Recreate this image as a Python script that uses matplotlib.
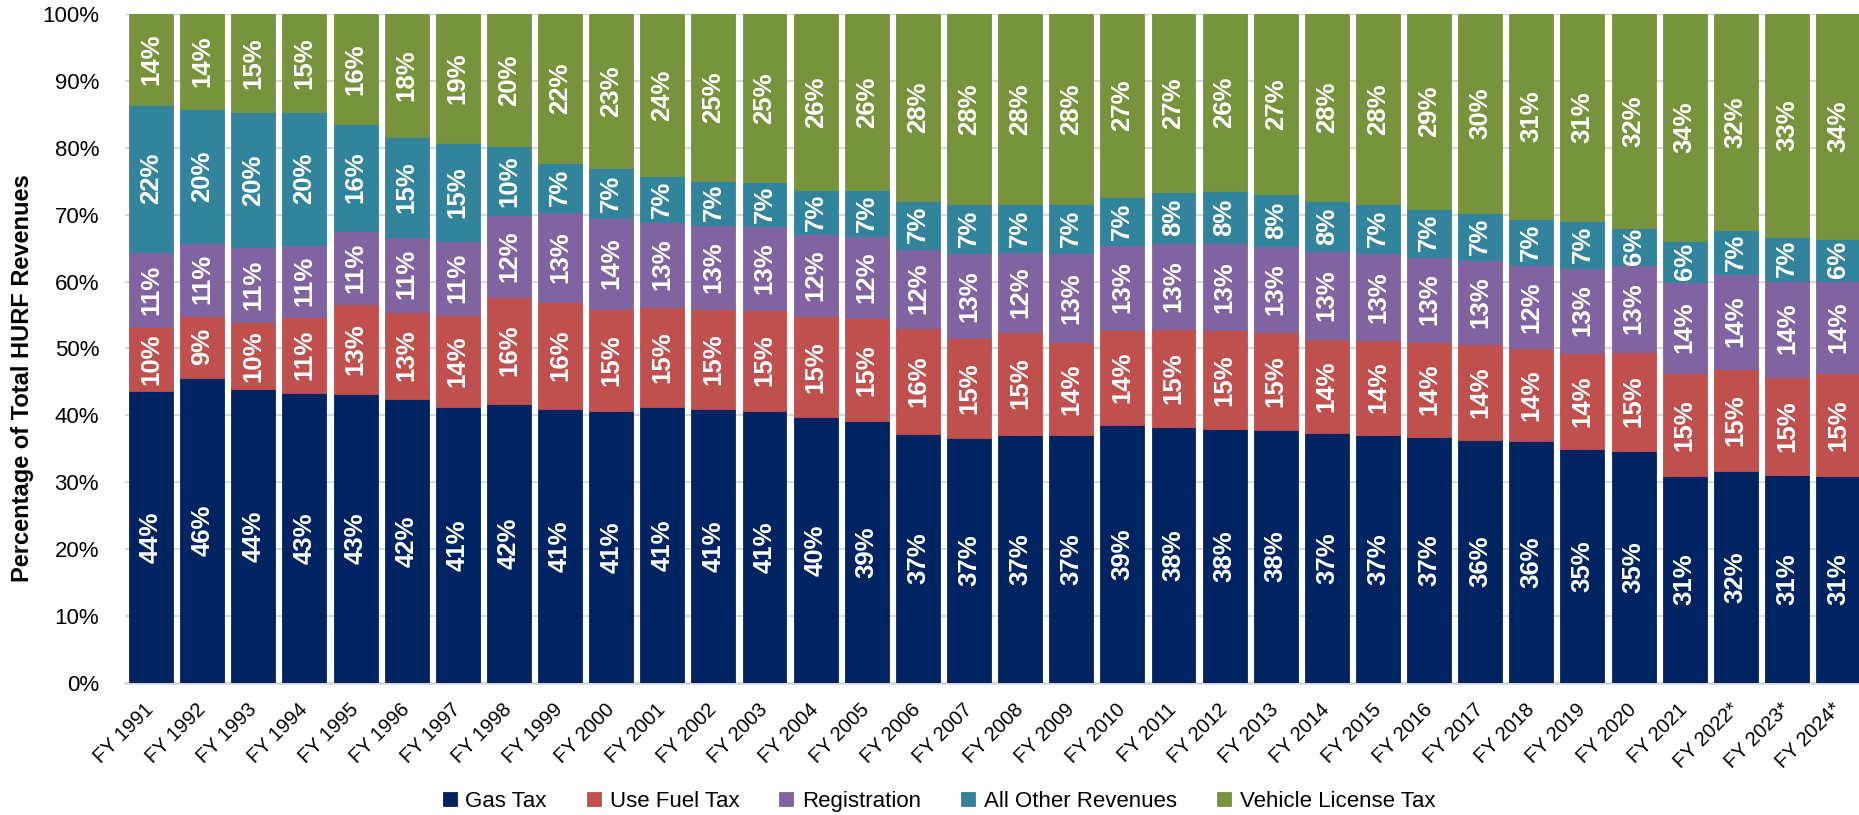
import matplotlib
matplotlib.use("Agg")
import matplotlib.pyplot as plt
import numpy as np

years = [f"FY {y}" for y in range(1991, 2022)] + ["FY 2022*", "FY 2023*", "FY 2024*"]

gas_tax = [43.6, 45.6, 43.9, 43.4, 43.2, 42.4, 41.2, 41.7, 40.9, 40.6, 41.2, 40.9,
           40.7, 39.7, 39.1, 37.2, 36.6, 37.1, 37.0, 38.6, 38.2, 37.9, 37.8, 37.3,
           37.1, 36.8, 36.3, 36.1, 34.9, 34.7, 30.9, 31.7, 31.1, 30.9]
use_fuel_tax = [9.6, 9.3, 10.0, 11.3, 13.4, 13.1, 13.8, 16.0, 16.1, 15.3, 15.0, 15.0,
                15.0, 15.1, 15.4, 15.8, 14.9, 15.3, 13.9, 14.2, 14.7, 14.8, 14.6, 14.1,
                14.1, 14.2, 14.3, 13.9, 14.4, 14.8, 15.4, 15.3, 14.7, 15.4]
registration = [11.2, 10.9, 11.2, 10.7, 10.9, 11.2, 11.1, 12.2, 13.4, 13.6, 12.7, 12.6,
                12.6, 12.3, 12.3, 11.9, 12.7, 12.0, 13.3, 12.6, 12.8, 13.0, 12.9, 13.1,
                13.0, 12.7, 12.6, 12.4, 12.7, 12.9, 13.6, 14.1, 14.3, 13.8]
all_other = [22.0, 20.0, 20.2, 20.0, 16.1, 14.9, 14.6, 10.3, 7.3, 7.4, 6.9, 6.6,
             6.6, 6.6, 6.9, 7.2, 7.4, 7.2, 7.4, 7.2, 7.7, 7.9, 7.8, 7.6,
             7.4, 7.2, 7.0, 7.0, 7.1, 5.6, 6.1, 6.6, 6.6, 6.3]
vehicle_license = [13.6, 14.2, 14.7, 14.6, 16.4, 18.4, 19.3, 19.8, 22.3, 23.1, 24.2, 24.9,
                   25.1, 26.3, 26.3, 27.9, 28.4, 28.4, 28.4, 27.4, 26.6, 26.4, 26.9, 27.9,
                   28.4, 29.1, 29.8, 30.6, 30.9, 32.0, 34.0, 32.3, 33.3, 33.6]

series = [
    ("Gas Tax", gas_tax, "#002462"),
    ("Use Fuel Tax", use_fuel_tax, "#C0504D"),
    ("Registration", registration, "#8064A2"),
    ("All Other Revenues", all_other, "#31849B"),
    ("Vehicle License Tax", vehicle_license, "#77933C"),
]

plt.rcParams["font.family"] = ["Liberation Sans", "DejaVu Sans"]

fig = plt.figure(figsize=(18.59, 8.15), dpi=100)
ax = fig.add_axes([0.0675, 0.162, 0.935, 0.8209])

x = np.arange(len(years))
bottom = np.zeros(len(years))
handles = []
for name, vals, color in series:
    vals = np.array(vals)
    bars = ax.bar(x, vals, width=0.86, bottom=bottom, color=color, label=name,
                  edgecolor=color, linewidth=0.6, zorder=2)
    handles.append(bars)
    for xi, b, v in zip(x, bottom, vals):
        ax.text(xi, b + v / 2, f"{v:.0f}%", rotation=90, ha="center", va="center",
                color="white", fontsize=18.5, fontweight="bold", zorder=3)
    bottom += vals

ax.set_xlim(-0.5, len(years) - 0.5)
ax.set_ylim(0, 100)
ax.set_yticks(range(0, 101, 10))
ax.set_yticklabels([f"{t}%" for t in range(0, 101, 10)], fontsize=16)
ax.set_xticks(x)
ax.set_xticklabels(years, rotation=45, ha="right", va="center", rotation_mode="anchor",
                   fontsize=14.5)
ax.tick_params(axis="y", length=0, pad=19)
ax.tick_params(axis="x", length=0, pad=17)
ax.grid(axis="y", color="#D9D9D9", linewidth=1.5, zorder=0)
ax.set_axisbelow(True)
for side in ("left", "right", "top"):
    ax.spines[side].set_visible(False)
ax.spines["bottom"].set_color("#D9D9D9")
ax.spines["bottom"].set_linewidth(2)
ax.spines["bottom"].set_zorder(1)

fig.text(23 / 1859, 1 - 378 / 815, "Percentage of Total HURF Revenues", rotation=90,
         ha="center", va="center", fontsize=17, fontweight="bold")

fig.legend(handles=handles, loc="center", bbox_to_anchor=(939 / 1859, 1 - 801.5 / 815),
           ncol=5, frameon=False, fontsize=16, handlelength=0.63, handleheight=0.63,
           handletextpad=0.4, columnspacing=1.8, borderpad=0, borderaxespad=0)

fig.savefig("out.png", dpi=100)
